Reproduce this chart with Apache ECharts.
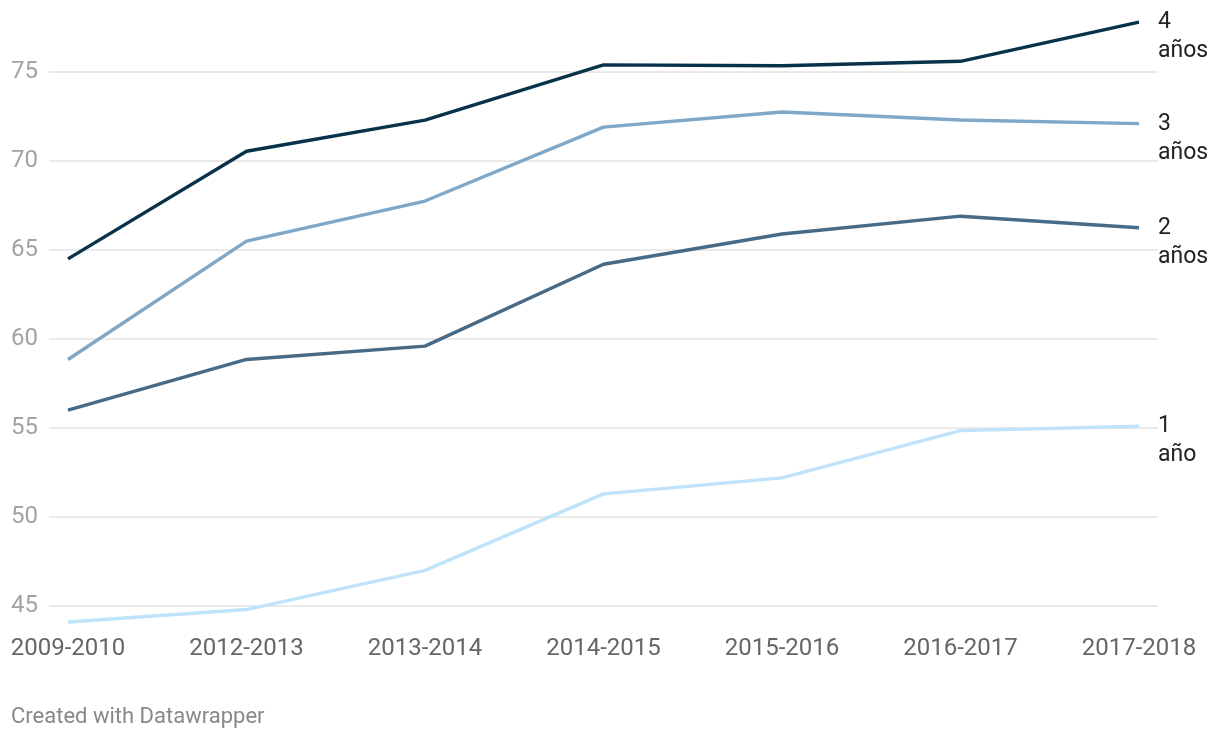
<!DOCTYPE html>
<html>
<head>
<meta charset="utf-8">
<script src="https://cdn.jsdelivr.net/npm/echarts@6/dist/echarts.min.js"></script>
<style>
html,body{margin:0;padding:0;background:#fff;}
#chart{width:1220px;height:738px;}
</style>
</head>
<body>
<div id="chart"></div>
<script>
var categories = ['2009-2010','2012-2013','2013-2014','2014-2015','2015-2016','2016-2017','2017-2018'];
var anos4 = [64.5, 70.55, 72.3, 75.4, 75.35, 75.6, 77.8];
var anos3 = [58.85, 65.5, 67.75, 71.9, 72.75, 72.3, 72.1];
var anos2 = [56.0, 58.85, 59.6, 64.2, 65.9, 66.9, 66.25];
var ano1 = [44.1, 44.8, 47.0, 51.3, 52.2, 54.85, 55.1];
var seriesNames = ['4\naños', '3\naños', '2\naños', '1\naño'];
var seriesColors = ['#08324a', '#7ea7c8', '#476a86', '#bfe3fa'];
var seriesData = [anos4, anos3, anos2, ano1];

var chart = echarts.init(document.getElementById('chart'), null, {renderer: 'canvas'});
var font = 'Roboto, "Noto Sans", sans-serif';

var series = seriesData.map(function (d, i) {
  return {
    type: 'line',
    name: seriesNames[i],
    xAxisIndex: 1,
    yAxisIndex: 1,
    data: d,
    clip: false,
    symbol: 'none',
    lineStyle: {color: seriesColors[i], width: 3.4},
    itemStyle: {color: seriesColors[i]},
    z: 10 - i,
    endLabel: {
      show: true,
      formatter: seriesNames[i],
      color: '#222',
      fontFamily: font,
      fontSize: 23,
      lineHeight: 29,
      align: 'left',
      verticalAlign: 'top',
      distance: 19,
      offset: [0, -14]
    }
  };
});

chart.setOption({
  animation: false,
  backgroundColor: '#fff',
  grid: [
    {left: 49, right: 62, top: 72, bottom: 132},
    {left: 68, right: 81, top: 72, bottom: 132}
  ],
  xAxis: [
    {gridIndex: 0, type: 'category', data: categories, show: false},
    {
      gridIndex: 1, type: 'category', data: categories, boundaryGap: false,
      axisLine: {show: false}, axisTick: {show: false}, splitLine: {show: false},
      axisLabel: {color: '#666', fontFamily: font, fontSize: 24, margin: 31}
    }
  ],
  yAxis: [
    {
      gridIndex: 0, type: 'value', min: 45, max: 75, interval: 5,
      axisLine: {show: false}, axisTick: {show: false},
      splitLine: {lineStyle: {color: '#e3e3e3', width: 1.5}},
      axisLabel: {color: '#a3a3a3', fontFamily: font, fontSize: 24, margin: 11}
    },
    {
      gridIndex: 1, type: 'value', min: 45, max: 75, interval: 5, show: false,
      splitLine: {show: false}
    }
  ],
  graphic: [{
    type: 'text', left: 11, top: 706,
    style: {text: 'Created with Datawrapper', fill: '#888', font: '22px ' + font}
  }],
  series: series
});
</script>
</body>
</html>
